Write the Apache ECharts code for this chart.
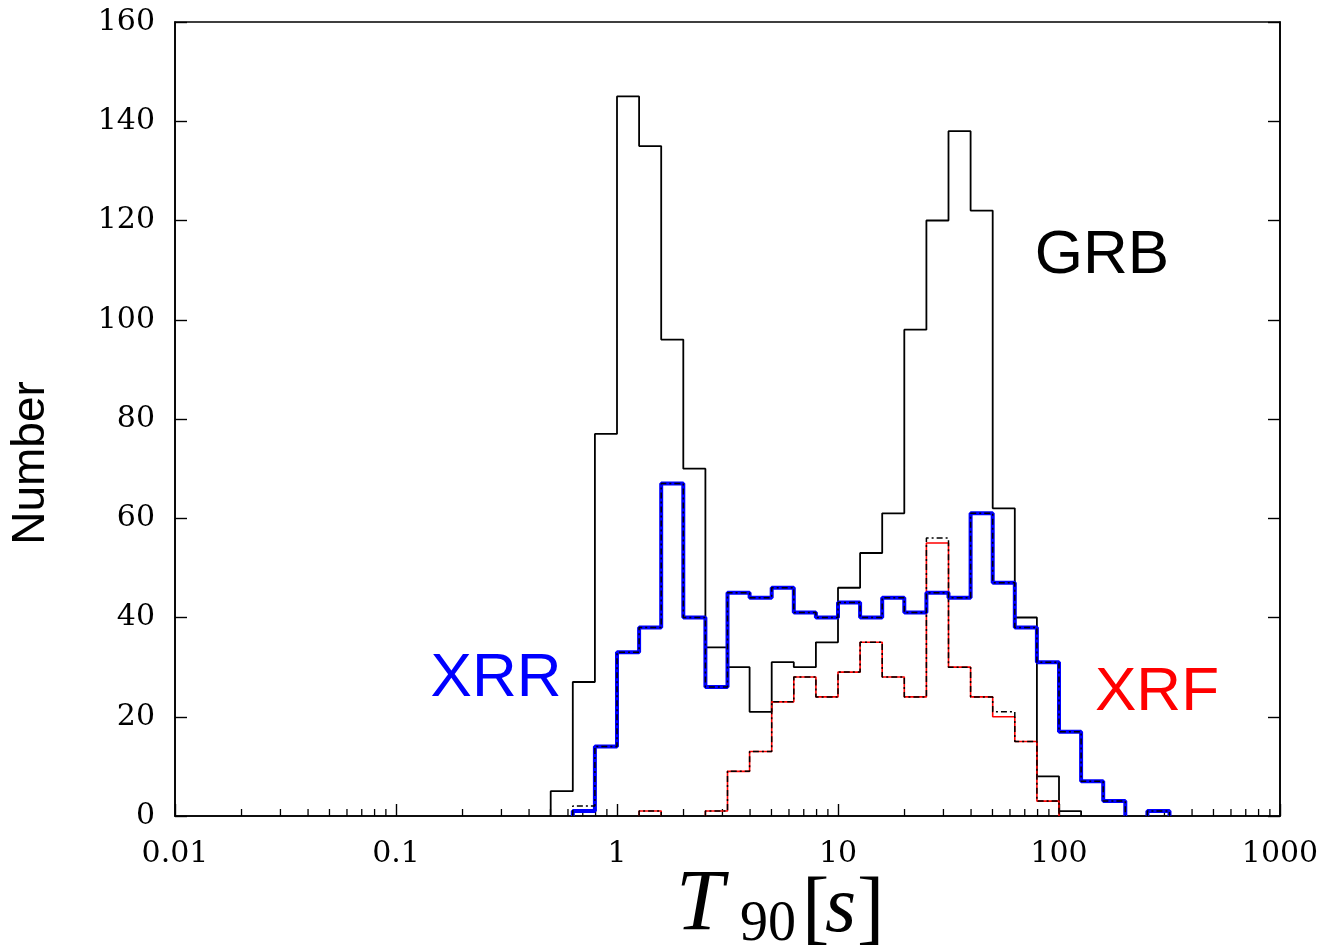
<!DOCTYPE html>
<html><head><meta charset="utf-8">
<script src="https://cdn.jsdelivr.net/npm/echarts@6/dist/echarts.min.js"></script>
<style>html,body{margin:0;padding:0;background:#fff}#c{width:1328px;height:952px}</style>
</head><body><div id="c"></div>
<script>
// ---- data (histogram counts in log10 bins of width 0.1 dex) ----
const binWidthDex = 0.1;
const grbFirstBinDex = -0.3;
const grbCounts = [5,27,77,145,135,96,70,34,30,21,31,30,35,46,53,61,98,120,138,122,62,40,8,1];
const xrrFirstBinDex = -0.2;
const xrrCounts    = [1,14,33,38,67,40,26,45,44,46,41,40,43,40,44,41,45,44,61,47,38,31,17,7,3,0,1];
const xrrAltCounts = [2,14,33,38,67,40,26,45,44,46,41,40,43,40,44,41,45,44,61,47,38,31,17,7,3,0,1];
const xrfFirstBinDex = 0.1;
const xrfCounts    = [1,0,0,1,9,13,23,28,24,29,35,28,24,55,30,24,20,15,3];
const xrfAltCounts = [1,0,0,1,9,13,23,28,24,29,35,28,24,56,30,24,21,15,3];
const xDecades = [0.01,0.1,1,10,100,1000];
const yTicks = [0,20,40,60,80,100,120,140,160];

function stepPoints(firstDex, counts){
  const pts=[];
  const edge=i=>Math.pow(10, firstDex + i*binWidthDex);
  let prev=0;
  counts.forEach((c,i)=>{
    const lo=edge(i), hi=edge(i+1);
    if(c===0){ if(prev!==0){ pts.push([lo,0]); pts.push([lo,'-']); } prev=0; return; }
    if(prev===0) pts.push([lo,0]);
    pts.push([lo,c],[hi,c]);
    prev=c;
  });
  if(prev!==0) pts.push([edge(counts.length),0]);
  return pts;
}
const minorTicks=[];
xDecades.slice(0,-1).forEach(d=>{for(let m=2;m<=9;m++) minorTicks.push([d*m,0]);});

const chart = echarts.init(document.getElementById('c'), null, {renderer:'canvas'});
const lbl = {fontFamily:'DejaVu Serif', fontSize:30, color:'#000'};
function stepSeries(name, data, color, width, dash, z){
  return {name, type:'line', data, showSymbol:false, symbol:'none', connectNulls:false,
    lineStyle:{color, width, type: dash||'solid'}, z, animation:false, silent:true};
}
chart.setOption({
  animation:false,
  backgroundColor:'#fff',
  grid:{left:175, right:48, top:22, bottom:136, show:true, borderColor:'#000', borderWidth:1.6, backgroundColor:'transparent'},
  xAxis:{type:'log', logBase:10, min:xDecades[0], max:xDecades[xDecades.length-1],
    axisLine:{lineStyle:{color:'#000', width:1.6}},
    axisTick:{inside:true, length:12, lineStyle:{color:'#000', width:1.4}},
    splitLine:{show:false}, minorTick:{show:false},
    axisLabel:Object.assign({margin:23, formatter:v=>String(+v.toPrecision(6))}, lbl)},
  yAxis:[
    {type:'value', min:yTicks[0], max:yTicks[yTicks.length-1], interval:20,
     axisLine:{show:true, lineStyle:{color:'#000', width:1.6}},
     axisTick:{show:true, inside:true, length:12, lineStyle:{color:'#000', width:1.4}},
     splitLine:{show:false}, axisLabel:Object.assign({margin:20}, lbl)},
    {type:'value', position:'right', min:yTicks[0], max:yTicks[yTicks.length-1], interval:20,
     axisLine:{show:true, lineStyle:{color:'#000', width:1.6}},
     axisTick:{show:true, inside:true, length:12, lineStyle:{color:'#000', width:1.4}},
     splitLine:{show:false}, axisLabel:{show:false}}
  ],
  series:[
    {type:'custom', silent:true, data:minorTicks, z:3,
     renderItem:(params, api)=>{
       const p = api.coord([api.value(0), 0]);
       return {type:'line', shape:{x1:p[0], y1:p[1], x2:p[0], y2:p[1]-7}, style:{stroke:'#000', lineWidth:1.3}};
     }},
    stepSeries('GRB', stepPoints(grbFirstBinDex, grbCounts), '#000', 1.8, 'solid', 4),
    stepSeries('XRF', stepPoints(xrfFirstBinDex, xrfCounts), '#ff0000', 1.6, 'solid', 5),
    stepSeries('XRF alt', stepPoints(xrfFirstBinDex, xrfAltCounts), '#000', 1.5, [6,3,2,3], 6),
    stepSeries('XRR', stepPoints(xrrFirstBinDex, xrrCounts), '#0000ff', 4, 'solid', 7),
    stepSeries('XRR alt', stepPoints(xrrFirstBinDex, xrrAltCounts), '#000', 1.5, [6,3,2,3], 8)
  ],
  graphic:[
    {type:'text', x:1102, y:256, style:{text:'GRB', font:'62px "Liberation Sans", Arial, sans-serif', fill:'#000', align:'center', verticalAlign:'middle'}},
    {type:'text', x:496, y:679, style:{text:'XRR', font:'62px "Liberation Sans", Arial, sans-serif', fill:'#0000ff', align:'center', verticalAlign:'middle'}},
    {type:'text', x:1157, y:693, style:{text:'XRF', font:'62px "Liberation Sans", Arial, sans-serif', fill:'#ff0000', align:'center', verticalAlign:'middle'}},
    {type:'text', x:31, y:463, rotation:Math.PI/2, style:{text:'Number', font:'46px "Liberation Sans", Arial, sans-serif', fill:'#000', align:'center', verticalAlign:'middle'}},
    {type:'text', x:676, y:906, style:{text:'T', font:'italic 86px "Liberation Serif", serif', fill:'#000', align:'left', verticalAlign:'middle'}},
    {type:'text', x:740, y:925, style:{text:'90', font:'56px "Liberation Serif", serif', fill:'#000', align:'left', verticalAlign:'middle'}},
    {type:'text', x:802, y:912, style:{text:'[', font:'82px "Liberation Serif", serif', fill:'#000', align:'left', verticalAlign:'middle'}},
    {type:'text', x:825, y:910, style:{text:'s', font:'italic 80px "Liberation Serif", serif', fill:'#000', align:'left', verticalAlign:'middle'}},
    {type:'text', x:857, y:912, style:{text:']', font:'82px "Liberation Serif", serif', fill:'#000', align:'left', verticalAlign:'middle'}}
  ]
});
</script></body></html>
